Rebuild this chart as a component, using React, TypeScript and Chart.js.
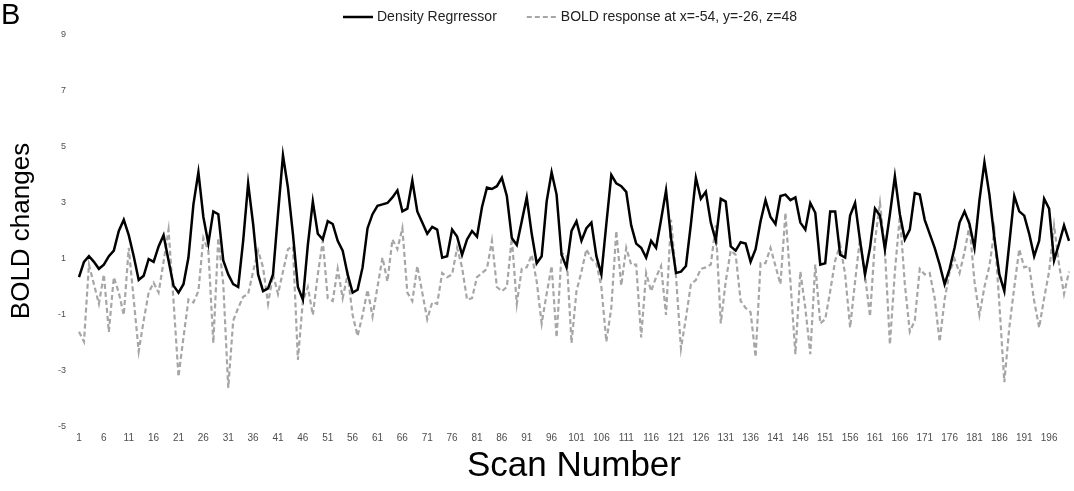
import React, { useEffect, useRef } from 'react';
import { Chart, registerables } from 'chart.js';

Chart.register(...registerables);

const scanNumbers: string[] = Array.from({ length: 200 }, (_, i) => String(i + 1));

const tickLabels: string[] = [
  '1', '6', '11', '16', '21', '26', '31', '36', '41', '46', '51', '56', '61', '66', '71', '76', '81', '86', '91', '96',
  '101', '106', '111', '116', '121', '126', '131', '136', '141', '146', '151', '156', '161', '166', '171', '176', '181', '186', '191', '196',
];

const densityRegressor: number[] = [
  0.35, 0.9, 1.1, 0.9, 0.65, 0.8, 1.1, 1.3, 2.0, 2.4,
  1.85, 1.1, 0.25, 0.4, 1.0, 0.9, 1.45, 1.85, 0.95, 0.05,
  -0.2, 0.1, 1.05, 2.95, 4.1, 2.5, 1.55, 2.7, 2.6, 0.95,
  0.45, 0.1, 0.0, 1.65, 3.7, 2.25, 0.45, -0.15, -0.05, 0.45,
  2.6, 4.7, 3.55, 1.9, 0.0, -0.45, 1.5, 3.05, 1.9, 1.7,
  2.35, 2.25, 1.65, 1.3, 0.45, -0.2, -0.1, 0.7, 2.1, 2.6,
  2.9, 2.95, 3.0, 3.2, 3.45, 2.7, 2.8, 3.8, 2.7, 2.3,
  1.9, 2.15, 2.05, 1.05, 1.1, 2.05, 1.8, 1.15, 1.7, 2.0,
  1.8, 2.85, 3.55, 3.5, 3.6, 3.9, 3.25, 1.75, 1.5, 2.35,
  3.2, 1.9, 0.85, 1.1, 3.05, 4.1, 3.3, 1.15, 0.7, 2.0,
  2.35, 1.65, 2.1, 2.3, 1.1, 0.45, 2.25, 4.0, 3.7, 3.6,
  3.4, 2.2, 1.55, 1.4, 1.05, 1.65, 1.4, 2.4, 3.45, 1.75,
  0.5, 0.55, 0.75, 2.25, 3.9, 3.15, 3.4, 2.3, 1.65, 3.15,
  3.05, 1.45, 1.3, 1.6, 1.55, 0.9, 1.35, 2.35, 3.1, 2.5,
  2.25, 3.25, 3.3, 3.1, 3.2, 2.3, 2.05, 3.0, 2.65, 0.8,
  0.85, 2.7, 2.7, 1.15, 1.05, 2.55, 3.0, 1.65, 0.45, 1.4,
  2.8, 2.55, 1.35, 2.6, 3.95, 2.6, 1.7, 2.05, 3.35, 3.3,
  2.4, 1.9, 1.4, 0.8, 0.1, 0.65, 1.4, 2.3, 2.7, 2.25,
  1.4, 3.1, 4.45, 3.3, 1.75, 0.45, -0.15, 1.55, 3.25, 2.7,
  2.55, 1.9, 1.1, 1.65, 3.15, 2.8, 0.95, 1.55, 2.2, 1.65,
];

const boldResponse: number[] = [
  -1.6, -1.95, 0.8, 0.1, -0.6, 0.45, -1.6, 0.35, -0.2, -1.0,
  1.4, -0.45, -2.3, -1.2, -0.2, 0.15, -0.2, 0.9, 2.05, -0.5,
  -3.2, -1.8, -0.45, -0.55, -0.15, 1.75, 1.3, -2.0, 1.75, 0.1,
  -3.6, -1.2, -0.75, -0.35, -0.25, 0.55, 1.3, 0.7, -0.6, 0.45,
  -0.25, 0.55, 1.35, 1.45, -2.6, -0.5, 0.0, -1.0, 0.45, 1.65,
  -0.4, -0.5, 0.65, -0.4, 0.45, -1.0, -1.75, -1.0, -0.1, -1.05,
  0.0, 1.05, 0.2, 1.7, 1.35, 2.1, -0.2, -0.5, 0.75, -0.2,
  -1.15, -0.55, -0.6, 0.5, 0.35, 0.45, 1.4, 0.7, -0.45, -0.4,
  0.35, 0.5, 0.65, 1.65, 0.0, -0.15, 0.0, 1.75, -0.6, 0.65,
  0.7, 1.15, 0.2, -1.3, -0.25, 0.75, -1.8, 1.2, 1.15, -2.0,
  -0.15, 0.55, 1.35, 1.0, 0.85, 0.0, -1.95, -0.75, 2.0, 0.05,
  1.4, 0.8, 0.8, -1.8, 0.5, -0.15, 0.35, 0.75, -1.0, 2.4,
  0.4, -2.2, -1.1, 0.1, 0.25, 0.65, 0.7, 0.8, 2.2, -1.3,
  0.2, 1.3, 1.15, -0.5, -0.75, -0.9, -2.5, 0.85, 0.85, 1.4,
  0.75, 0.1, 2.65, 0.2, -2.4, 0.55, -0.75, -2.4, 0.8, -1.3,
  -1.15, -0.15, 0.95, 1.5, 0.45, -1.45, 0.2, 1.75, 0.4, -1.05,
  1.65, 3.0, 1.3, -2.05, 0.55, 2.55, 0.1, -1.6, -1.2, 0.65,
  0.45, 0.5, -0.4, -1.95, -0.45, 0.55, 1.0, 0.5, 1.25, 2.2,
  0.2, -1.0, 0.0, 0.75, 2.0, -0.6, -3.4, -1.45, 0.0, 1.35,
  0.7, 0.75, -0.5, -1.45, -0.4, 0.55, 2.2, 0.8, -0.25, 0.55,
];

const seriesLabels: string[] = ['Density Regrressor', 'BOLD response at x=-54, y=-26, z=48'];

const FONT = '"Liberation Sans", Arial, sans-serif';

const topLegend = {
  id: 'topLegend',
  afterDraw(chart: any) {
    const { ctx, chartArea } = chart;
    ctx.save();
    ctx.font = `14px ${FONT}`;
    ctx.textBaseline = 'middle';
    ctx.textAlign = 'left';
    const sampleW = 30;
    const textGap = 4;
    const itemGap = 30;
    const y = 17;
    const items = chart.data.datasets.map((ds: any) => ({
      label: ds.label as string,
      color: ds.borderColor as string,
      dash: (ds.borderDash || []) as number[],
      width: ds.borderWidth as number,
    }));
    const widths = items.map((it: any) => sampleW + textGap + ctx.measureText(it.label).width);
    const total = widths.reduce((a: number, b: number) => a + b, 0) + itemGap * (items.length - 1);
    let x = (chartArea.left + chartArea.right) / 2 - 4 - total / 2;
    items.forEach((it: any, i: number) => {
      ctx.beginPath();
      ctx.setLineDash(it.dash);
      ctx.strokeStyle = it.color;
      ctx.lineWidth = it.width;
      ctx.moveTo(x, y);
      ctx.lineTo(x + sampleW, y);
      ctx.stroke();
      ctx.setLineDash([]);
      ctx.fillStyle = '#222222';
      ctx.fillText(it.label, x + sampleW + textGap, y);
      x += widths[i] + itemGap;
    });
    ctx.restore();
  },
};

export default function App() {
  const ref = useRef<HTMLCanvasElement>(null);

  useEffect(() => {
    if (!ref.current) return;
    const chart = new Chart(ref.current, {
      type: 'line',
      data: {
        labels: scanNumbers,
        datasets: [
          {
            label: seriesLabels[0],
            data: densityRegressor,
            borderColor: '#000000',
            borderWidth: 2.5,
            pointRadius: 0,
            tension: 0,
            fill: false,
          },
          {
            label: seriesLabels[1],
            data: boldResponse,
            borderColor: '#a6a6a6',
            borderWidth: 2.2,
            borderDash: [5, 3],
            pointRadius: 0,
            tension: 0,
            fill: false,
          },
        ],
      },
      options: {
        responsive: false,
        animation: false,
        layout: { padding: { top: 35, left: 0, right: 0, bottom: 0 } },
        plugins: {
          legend: { display: false },
          tooltip: { enabled: false },
        },
        scales: {
          x: {
            type: 'category',
            offset: false,
            grid: { display: false, drawTicks: false },
            border: { display: false },
            ticks: {
              autoSkip: false,
              maxRotation: 0,
              minRotation: 0,
              padding: 5,
              color: '#4d4d4d',
              font: { family: FONT, size: 10 },
              callback: (_v: any, index: number) => {
                const l = scanNumbers[index];
                return tickLabels.includes(l) ? l : '';
              },
            },
            title: {
              display: true,
              text: 'Scan Number',
              color: '#000000',
              font: { family: FONT, size: 35 },
              padding: { top: 0, bottom: 4 },
            },
            afterFit: (s: any) => {
              s.height = 64;
            },
          },
          y: {
            min: -5,
            max: 9,
            grid: { display: false, drawTicks: false },
            border: { display: false },
            ticks: {
              stepSize: 2,
              padding: 13,
              color: '#4d4d4d',
              font: { family: FONT, size: 9 },
            },
            title: {
              display: true,
              text: 'BOLD changes',
              color: '#000000',
              font: { family: FONT, size: 26 },
              padding: { top: 6, bottom: 0 },
            },
            afterFit: (s: any) => {
              s.width = 79;
            },
          },
        },
      },
      plugins: [topLegend],
    } as any);
    return () => chart.destroy();
  }, []);

  return (
    <div style={{ position: 'fixed', left: 0, top: 0, width: 1074, height: 491, background: '#ffffff', overflow: 'hidden' }}>
      <canvas ref={ref} width={1074} height={491} style={{ width: 1074, height: 491, display: 'block' }} />
      <div style={{ position: 'absolute', left: 1, top: -3, fontFamily: FONT, fontSize: 29, color: '#000000', lineHeight: 1.2 }}>B</div>
    </div>
  );
}
